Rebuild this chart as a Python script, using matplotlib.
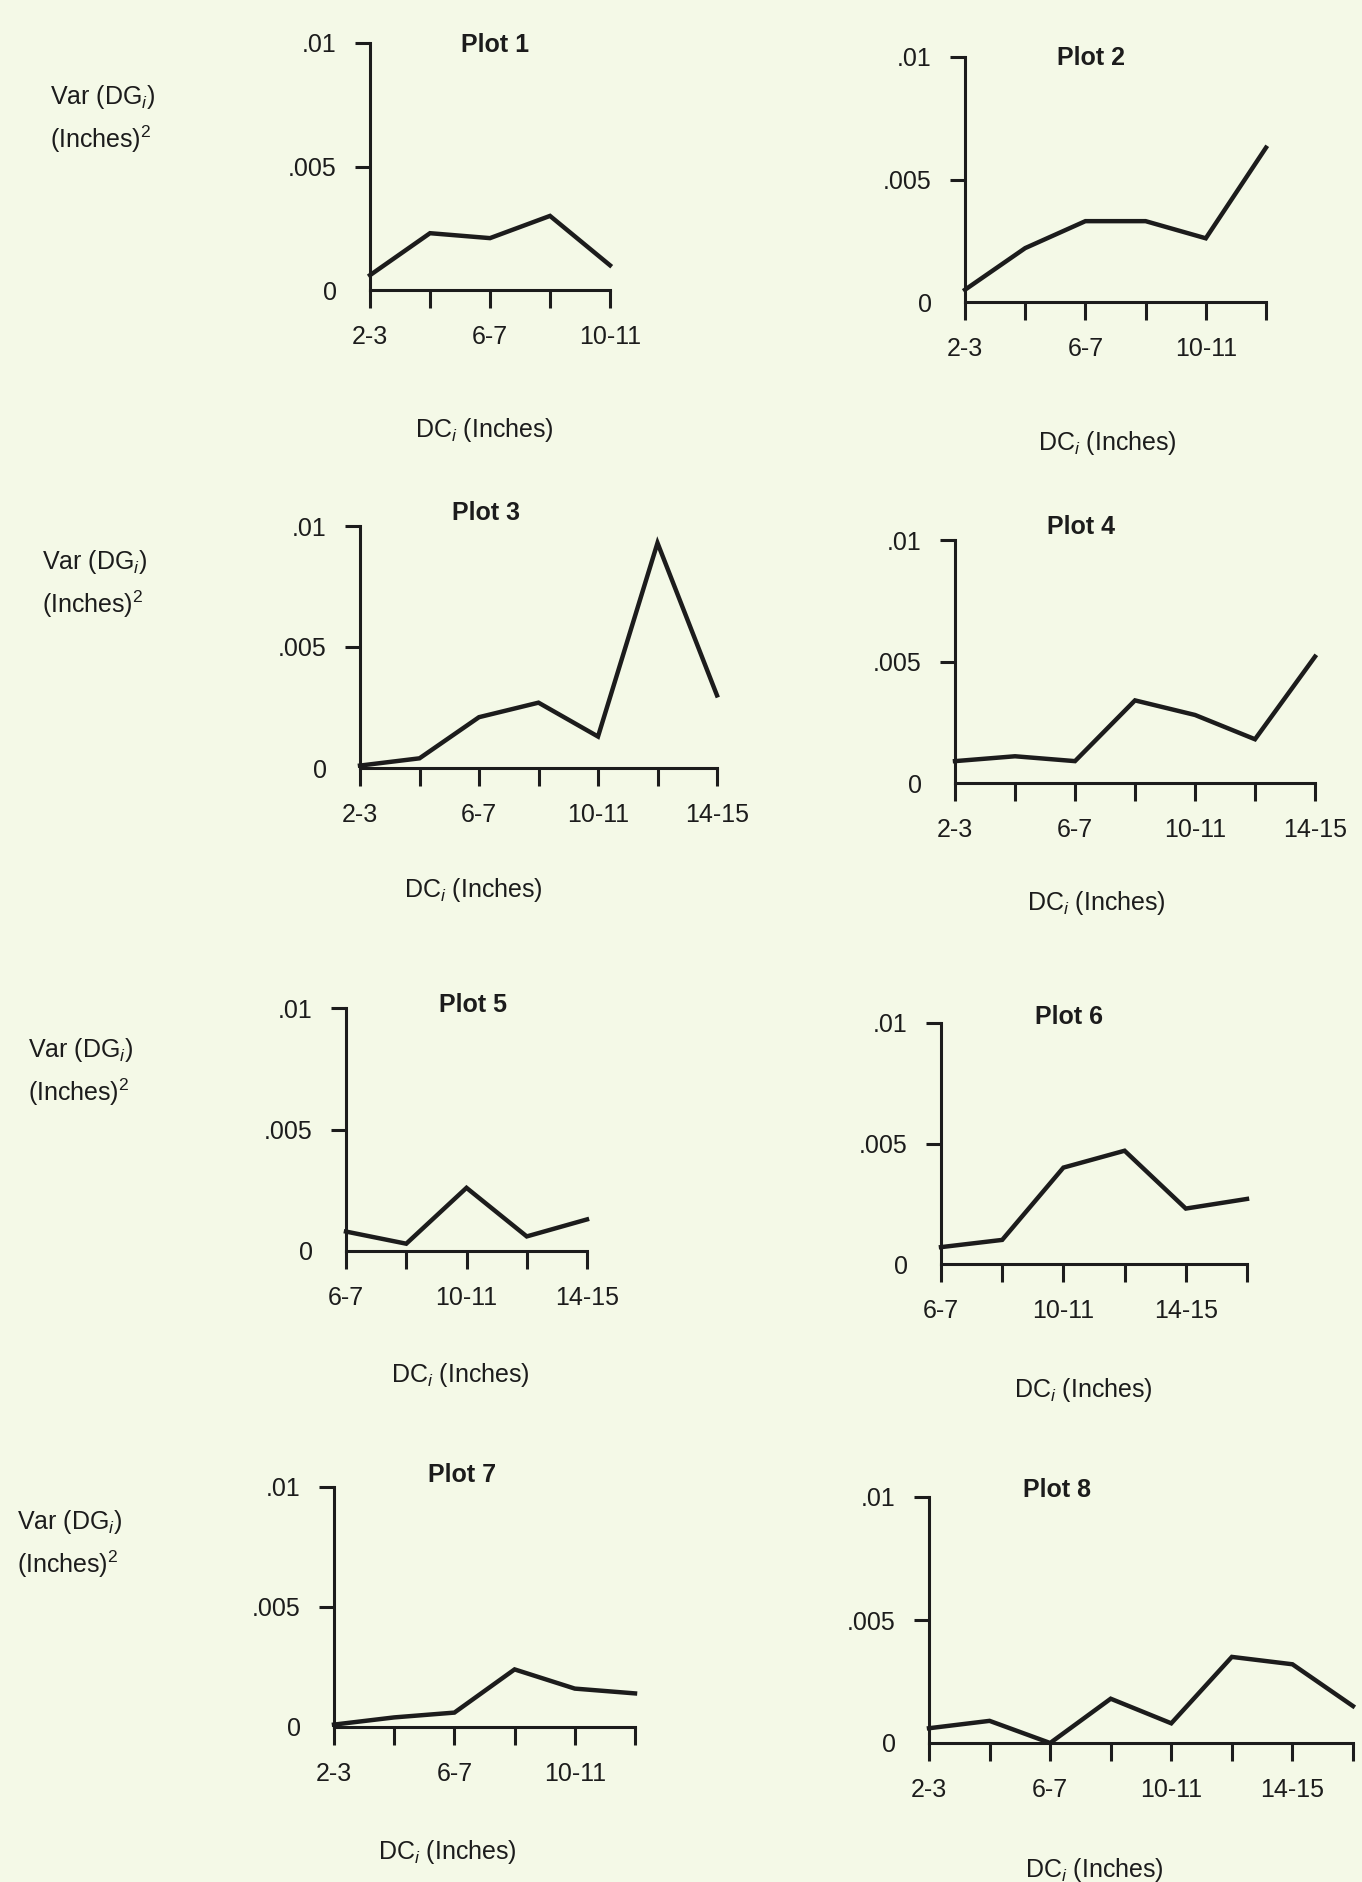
import matplotlib
matplotlib.use('Agg')
from matplotlib import pyplot as plt

plt.rcParams['font.family'] = ['Liberation Sans', 'DejaVu Sans']
plt.rcParams['mathtext.fontset'] = 'custom'
plt.rcParams['mathtext.rm'] = 'Liberation Sans'
plt.rcParams['mathtext.it'] = 'Liberation Sans:italic'

# diameter classes (inches) along the x axis
dc_classes = ['2-3', '4-5', '6-7', '8-9', '10-11', '12-13', '14-15', '16-17']

plot_titles = ['Plot 1', 'Plot 2', 'Plot 3', 'Plot 4', 'Plot 5', 'Plot 6', 'Plot 7', 'Plot 8']
first_class = [0, 0, 0, 0, 2, 2, 0, 0]

# Var(DG_i), inches^2
var_plot1 = [0.0006, 0.0023, 0.0021, 0.0030, 0.0010]
var_plot2 = [0.0005, 0.0022, 0.0033, 0.0033, 0.0026, 0.0063]
var_plot3 = [0.0001, 0.0004, 0.0021, 0.0027, 0.0013, 0.0093, 0.0030]
var_plot4 = [0.0009, 0.0011, 0.0009, 0.0034, 0.0028, 0.0018, 0.0052]
var_plot5 = [0.0008, 0.0003, 0.0026, 0.0006, 0.0013]
var_plot6 = [0.0007, 0.0010, 0.0040, 0.0047, 0.0023, 0.0027]
var_plot7 = [0.0001, 0.0004, 0.0006, 0.0024, 0.0016, 0.0014]
var_plot8 = [0.0006, 0.0009, 0.0000, 0.0018, 0.0008, 0.0035, 0.0032, 0.0015]
all_vars = [var_plot1, var_plot2, var_plot3, var_plot4,
            var_plot5, var_plot6, var_plot7, var_plot8]

y_ticks = [0, 0.005, 0.01]
y_tick_labels = ['0', '.005', '.01']

W, H = 1362, 1882
bg = '#f4f9e7'
ink = '#1c1c1c'

# layout in pixels: axis x0, last tick x, y of .01, y of 0
axes_box = [(370, 610, 43, 290), (965, 1266, 57, 302),
            (360, 717, 526, 768), (955, 1315, 540, 783),
            (346, 587, 1008, 1251), (941, 1247, 1023, 1264),
            (334, 635, 1487, 1727), (929, 1353, 1497, 1743)]
title_pos = [(495, 45), (1091, 58), (486, 513), (1081, 527),
             (473, 1005), (1069, 1017), (462, 1475), (1057, 1490)]
xlabel_pos = [(484, 430), (1107, 443), (473, 890), (1096, 903),
              (460, 1375), (1083, 1390), (447, 1852), (1094, 1870)]
ylabel_pos = {0: (50, 97), 2: (42, 562), 4: (28, 1050), 6: (17, 1522)}

fig = plt.figure(figsize=(W / 100, H / 100), dpi=100)
fig.patch.set_facecolor(bg)

for k in range(8):
    vals = all_vars[k]
    n = len(vals)
    cats = dc_classes[first_class[k]:first_class[k] + n]
    x0, x1, ytop, yzero = axes_box[k]
    ax = fig.add_axes([x0 / W, 1 - yzero / H, (x1 - x0) / W, (yzero - ytop) / H])
    ax.set_facecolor('none')
    ax.plot(range(n), vals, color=ink, lw=3.2, clip_on=False, solid_joinstyle='miter')
    ax.set_xlim(0, n - 1)
    ax.set_ylim(0, 0.01)
    for s in ['top', 'right']:
        ax.spines[s].set_visible(False)
    for s in ['left', 'bottom']:
        ax.spines[s].set_linewidth(2.2)
        ax.spines[s].set_color(ink)
    ax.set_xticks(range(n))
    ax.set_xticklabels([c if i % 2 == 0 else '' for i, c in enumerate(cats)])
    ax.set_yticks(y_ticks)
    ax.set_yticklabels(y_tick_labels)
    ax.tick_params(axis='x', direction='out', length=13, width=2.2, pad=12,
                   labelsize=18, colors=ink)
    ax.tick_params(axis='y', direction='out', length=11, width=2.2, pad=13,
                   labelsize=18, colors=ink)
    ax.yaxis.get_major_ticks()[0].tick1line.set_visible(False)

    tx, ty = title_pos[k]
    fig.text(tx / W, 1 - ty / H, plot_titles[k], ha='center', va='center',
             fontsize=18, fontweight='bold', color=ink)
    lx, ly = xlabel_pos[k]
    fig.text(lx / W, 1 - ly / H, 'DC$_i$ (Inches)', ha='center', va='center',
             fontsize=18, color=ink)
    if k in ylabel_pos:
        vx, vy = ylabel_pos[k]
        fig.text(vx / W, 1 - vy / H, 'Var (DG$_i$)', ha='left', va='center',
                 fontsize=18, color=ink)
        fig.text(vx / W, 1 - (vy + 42) / H, '(Inches)$^2$', ha='left', va='center',
                 fontsize=18, color=ink)

fig.savefig('out.png', dpi=100, facecolor=bg)
